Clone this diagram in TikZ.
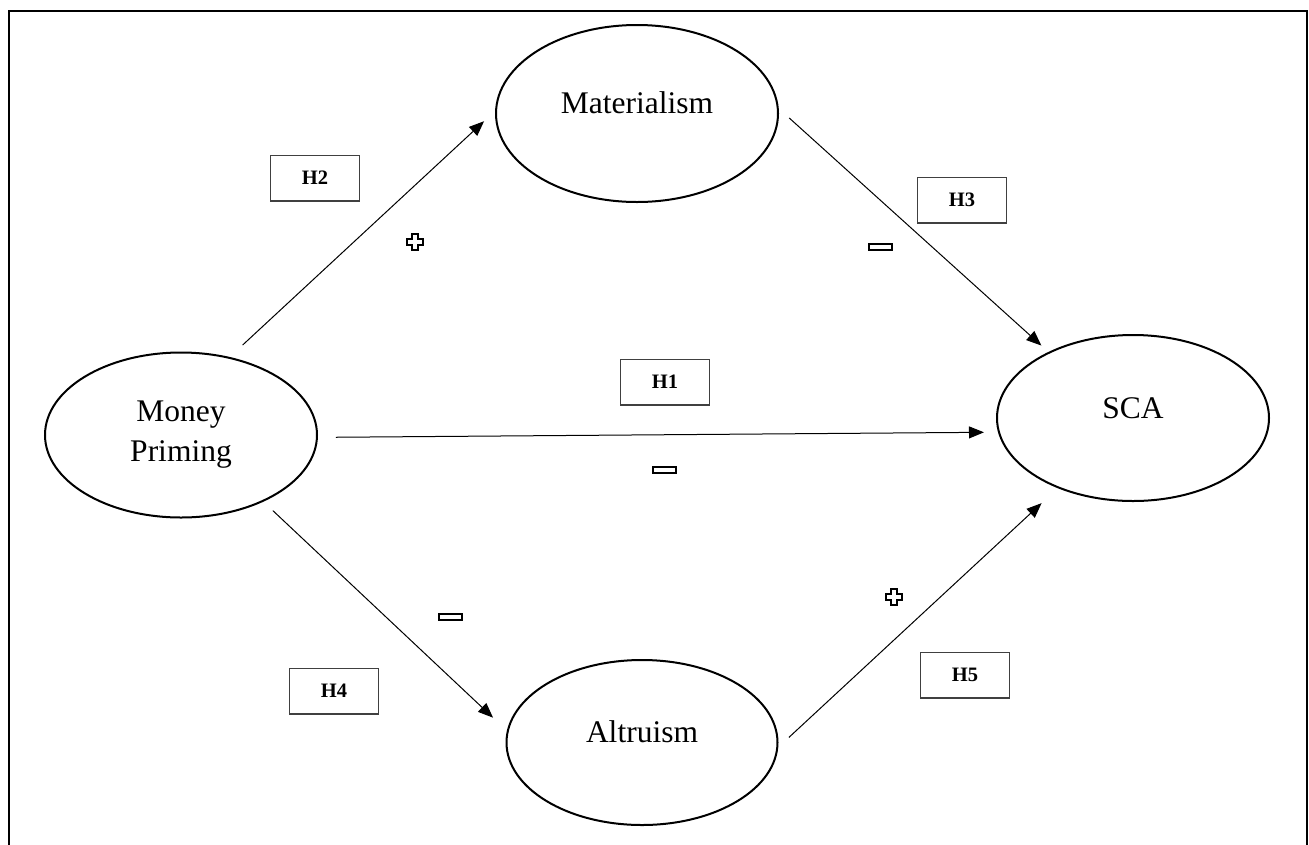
\documentclass[tikz,border=0pt]{standalone}
\usepackage{fontspec}
\setmainfont{Liberation Serif}
\usetikzlibrary{arrows.meta,shapes.geometric}

\begin{document}
\begin{tikzpicture}[x=1pt, y=-1pt,
  construct/.style={draw, ellipse, line width=2pt, inner sep=0pt,
               font=\fontsize{31.5}{40}\selectfont, align=center},
  oneline/.style={text height=20pt, text depth=20pt},
  hyp/.style={draw=black!75, line width=1.2pt, minimum width=88.8pt, minimum height=45.8pt,
               inner sep=0pt, font=\fontsize{20.5}{24}\selectfont\bfseries},
  negsign/.style={draw, line width=2pt, minimum width=23pt, minimum height=6.5pt, inner sep=0pt},
  link/.style={-{Triangle[length=15pt,width=12pt]}, line width=1pt},
  possign/.pic={
    \draw[line width=2pt] (-3,-8) -- (3,-8) -- (3,-3) -- (8,-3) -- (8,3)
      -- (3,3) -- (3,8) -- (-3,8) -- (-3,3) -- (-8,3) -- (-8,-3)
      -- (-3,-3) -- cycle;
  },
]
\clip (0,0) rectangle (1309,844);
% frame
\draw[line width=2pt] (9,860) |- (1307,11) -- (1307,860);

% constructs
\node[construct, oneline, minimum width=282pt, minimum height=177pt] (mat) at (637,113.5) {Materialism};
\node[construct, minimum width=272pt, minimum height=165pt] (mp) at (181,435) {Money\\Priming};
\node[construct, oneline, minimum width=272pt, minimum height=166pt] (sca) at (1133,418) {SCA};
\node[construct, oneline, minimum width=271pt, minimum height=165pt] (alt) at (642,742.5) {Altruism};

% paths
\draw[link, shorten <=17.5pt, shorten >=15pt] (mp.58) -- (mat.179);
\draw[link, shorten <=14pt, shorten >=9.5pt] (mat.2) -- (sca.142);
\draw[link, shorten <=18pt, shorten >=14pt] (mp.359) -- (sca.186);
\draw[link, shorten <=13pt, shorten >=19pt] (mp.321) -- (alt.175);
\draw[link, shorten <=14.5pt, shorten >=22pt] (alt.358) -- (sca.223);

% hypotheses
\node[hyp] (h2) at (315,178) {H2};
\node[hyp] (h3) at (962,200) {H3};
\node[hyp] (h1) at (665,382) {H1};
\node[hyp] (h4) at (334,691) {H4};
\node[hyp] (h5) at (965,675) {H5};

% signs
\pic (p2) at (415,242) {possign};
\pic (p5) at (894,597) {possign};
\node[negsign] (n3) at (880,247) {};
\node[negsign] (n1) at (664,470) {};
\node[negsign] (n4) at (450,617) {};
\end{tikzpicture}
\end{document}
